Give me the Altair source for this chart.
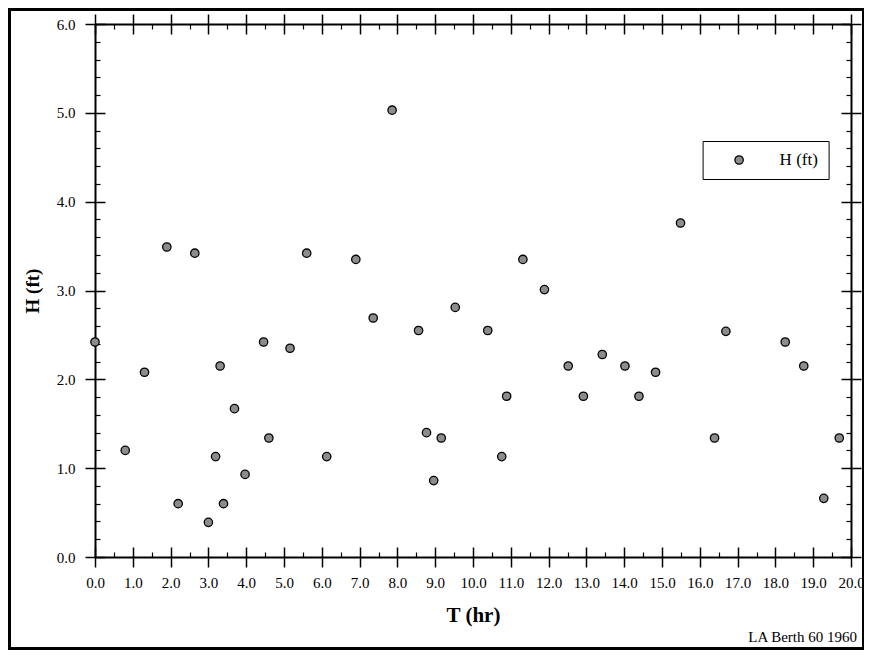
import altair as alt
import pandas as pd

# ---- data ----
T_HR = [0.0, 0.80, 1.31, 1.90, 2.20, 2.64, 3.00, 3.19, 3.31, 3.40, 3.69, 3.97, 4.46, 4.60,
        5.16, 5.60, 6.13, 6.90, 7.36, 7.86, 8.56, 8.77, 8.96, 9.16, 9.53, 10.39, 10.76,
        10.89, 11.32, 11.89, 12.52, 12.92, 13.42, 14.02, 14.39, 14.83, 15.49, 16.39,
        16.69, 18.26, 18.75, 19.28, 19.69]
H_FT = [2.42, 1.20, 2.08, 3.49, 0.60, 3.42, 0.39, 1.13, 2.15, 0.60, 1.67, 0.93, 2.42, 1.34,
        2.35, 3.42, 1.13, 3.35, 2.69, 5.03, 2.55, 1.40, 0.86, 1.34, 2.81, 2.55, 1.13,
        1.81, 3.35, 3.01, 2.15, 1.81, 2.28, 2.15, 1.81, 2.08, 3.76, 1.34, 2.54, 2.42,
        2.15, 0.66, 1.34]
SERIES = "H (ft)"
X_TITLE = "T (hr)"
Y_TITLE = "H (ft)"
NOTE = "LA Berth 60 1960"

X_MAJOR = [0, 1, 2, 3, 4, 5, 6, 7, 8, 9, 10, 11, 12, 13, 14, 15, 16, 17, 18, 19, 20]
X_MINOR = [0.5, 1.5, 2.5, 3.5, 4.5, 5.5, 6.5, 7.5, 8.5, 9.5, 10.5, 11.5, 12.5, 13.5,
           14.5, 15.5, 16.5, 17.5, 18.5, 19.5]
Y_MAJOR = [0, 1, 2, 3, 4, 5, 6]
Y_MINOR = [0.2, 0.4, 0.6, 0.8, 1.2, 1.4, 1.6, 1.8, 2.2, 2.4, 2.6, 2.8, 3.2, 3.4, 3.6, 3.8,
           4.2, 4.4, 4.6, 4.8, 5.2, 5.4, 5.6, 5.8]

df = pd.DataFrame({"T": T_HR, "H": H_FT, "series": [SERIES] * len(T_HR)})
one = pd.DataFrame({"a": [0]})

FONT = "Liberation Serif"
W, H = 756, 533

xscale = alt.Scale(domain=[0, 20], nice=False, zero=False)
yscale = alt.Scale(domain=[0, 6], nice=False, zero=False)

common = dict(grid=False, domainColor="black", tickColor="black", labelColor="black",
              titleColor="black", labelFont=FONT, titleFont=FONT, labelFlush=False,
              labelOverlap=False)


def ax(orient, values, size, offset=0, domain=False, labels=False, width=1.5, **kw):
    d = dict(common)
    d.update(dict(orient=orient, values=values, tickSize=size, offset=offset,
                  domain=domain, labels=labels, tickWidth=width, domainWidth=2))
    if "title" not in kw:
        kw["title"] = None
    d.update(kw)
    return alt.Axis(**d)


main = alt.Chart(df).mark_point(shape="circle", filled=True, size=70, stroke="black",
                                strokeWidth=1.3, opacity=1).encode(
    x=alt.X("T:Q", scale=xscale,
            axis=ax("bottom", X_MAJOR, 10, domain=True, labels=True, format=".1f",
                    labelFontSize=15, labelPadding=8, title=X_TITLE, titleFontSize=21,
                    titleFontWeight="bold", titlePadding=14, zindex=1)),
    y=alt.Y("H:Q", scale=yscale,
            axis=ax("left", Y_MAJOR, 10, domain=True, labels=True, format=".1f",
                    labelFontSize=15, labelPadding=10, title=Y_TITLE, titleFontSize=19,
                    titleFontWeight="bold", titlePadding=14)),
    color=alt.Color("series:N", scale=alt.Scale(range=["#8c8c8c"]),
                    legend=alt.Legend(title=None, orient="none", legendX=607.6, legendY=117,
                                      padding=10.5, strokeColor="black", fillColor="white",
                                      symbolType="circle", symbolSize=70,
                                      symbolStrokeColor="black", symbolStrokeWidth=1.3,
                                      symbolOffset=17.5, labelOffset=32, labelFont=FONT,
                                      labelFontSize=17, labelColor="black")),
)


def ghost(xa, ya):
    return alt.Chart(df).mark_point(opacity=0).encode(
        x=alt.X("T:Q", scale=xscale, axis=xa),
        y=alt.Y("H:Q", scale=yscale, axis=ya))


l2 = ghost(ax("top", X_MAJOR, 10, domain=True), ax("right", Y_MAJOR, 10, domain=True))
l3 = ghost(ax("bottom", X_MAJOR, 10, offset=-10), ax("left", Y_MAJOR, 10, offset=-10))
l4 = ghost(ax("top", X_MAJOR, 10, offset=-10), ax("right", Y_MAJOR, 10, offset=-10))
l5 = ghost(ax("bottom", X_MINOR, 5, offset=-5, width=1.2),
           ax("left", Y_MINOR, 5, offset=-5, width=1.2))
l6 = ghost(ax("top", X_MINOR, 5, offset=-5, width=1.2),
           ax("right", Y_MINOR, 5, offset=-5, width=1.2))

frame = alt.Chart(one).mark_rect(fill="white", fillOpacity=0, stroke="black",
                                 strokeWidth=3).encode(
    x=alt.value(-85.5), x2=alt.value(768.5), y=alt.value(-14.5), y2=alt.value(624.5))

note = alt.Chart(one).mark_text(align="right", baseline="alphabetic", font=FONT,
                                fontSize=15, color="black").encode(
    x=alt.value(762), y=alt.value(618), text=alt.value(NOTE))

chart = alt.layer(frame, l2, l3, l4, l5, l6, main, note).resolve_axis(
    x="independent", y="independent"
).properties(
    width=W, height=H,
    autosize=alt.AutoSizeParams(type="none"),
    padding={"left": 87, "top": 16, "right": 13, "bottom": 93},
    background="white",
).configure_view(strokeWidth=0).configure(font=FONT)

chart.save("out.html", embed_options={"renderer": "svg", "actions": False})
